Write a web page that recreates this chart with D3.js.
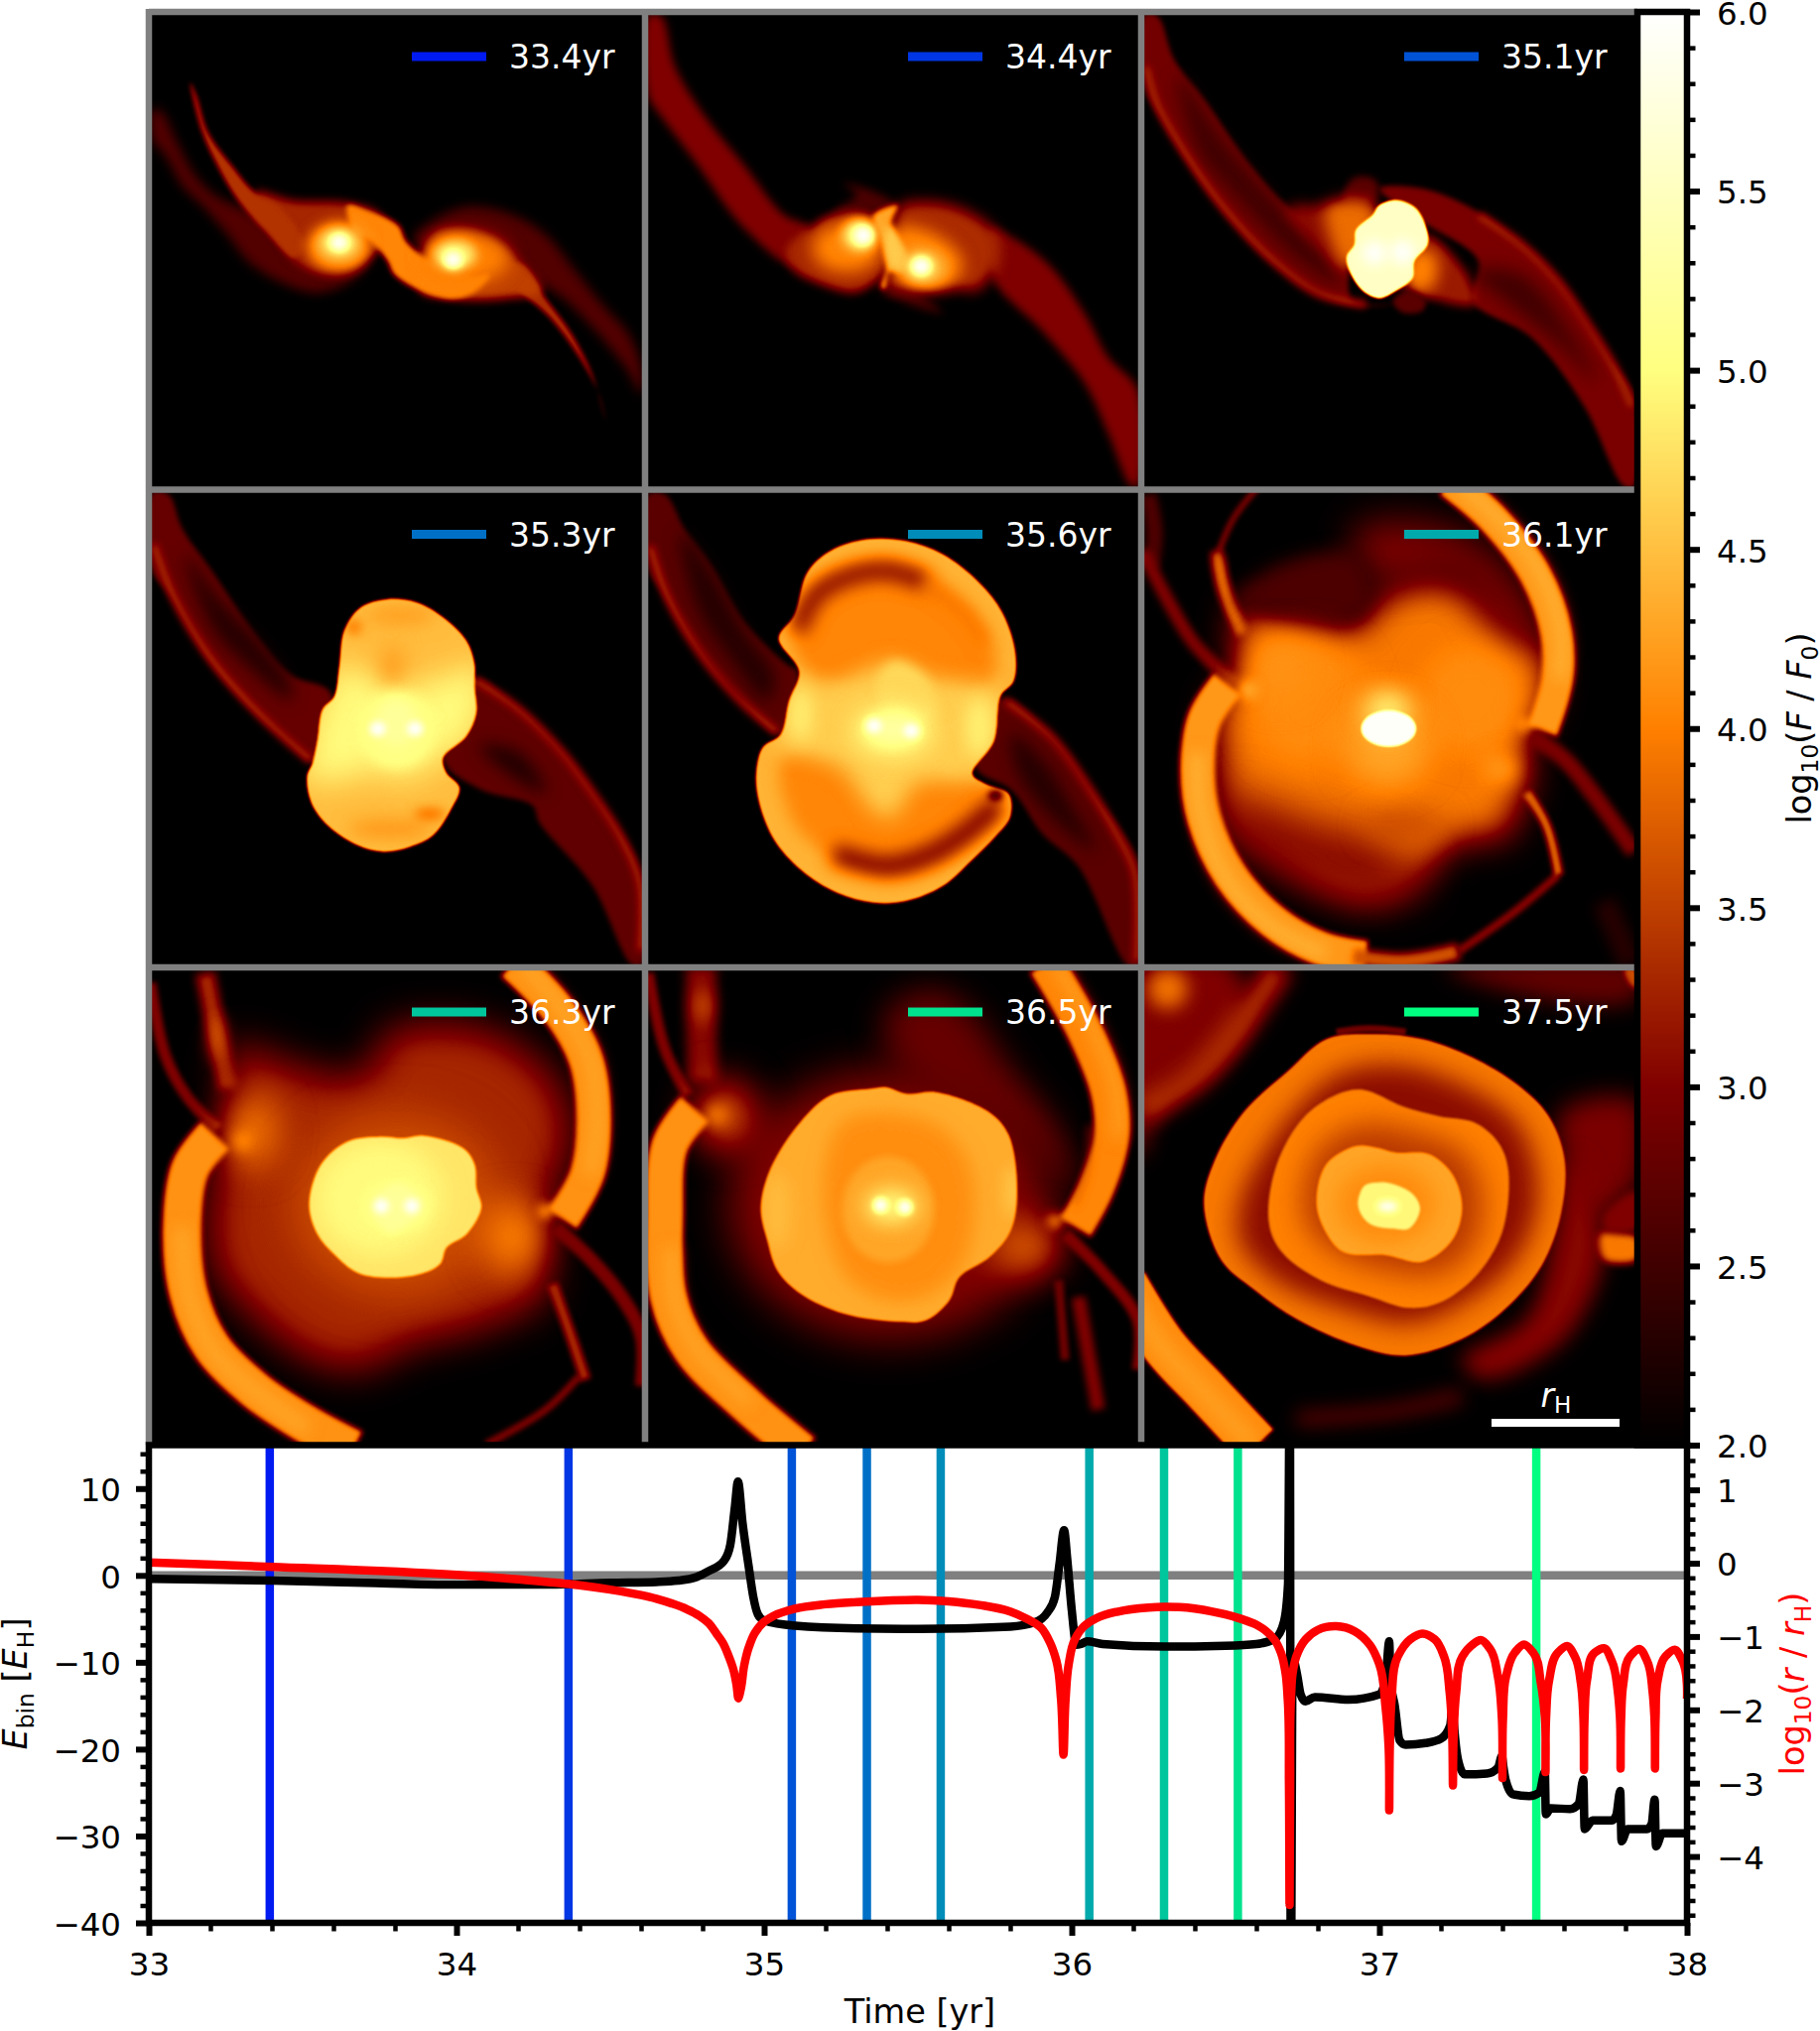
<!DOCTYPE html>
<html><head><meta charset="utf-8">
<script src="https://cdn.jsdelivr.net/npm/d3@7"></script>
<style>html,body{margin:0;padding:0;background:#fff}svg{display:block}text{font-family:"DejaVu Sans";}</style>
</head><body><svg id="fig" width="1834" height="2047"></svg>
<script>
// ---------- values ----------
const snapshotLabels=['33.4yr','34.4yr','35.1yr','35.3yr','35.6yr','36.1yr','36.3yr','36.5yr','37.5yr'];
const snapshotTimes=[33.393,34.364,35.09,35.334,35.574,36.057,36.30,36.54,37.51];
const xTicks=[33,34,35,36,37,38];
const eTicks=[10,0,-10,-20,-30,-40];
const rTicks=[1,0,-1,-2,-3,-4];
const cTicks=[2,2.5,3,3.5,4,4.5,5,5.5,6];

const binT=[33,33.4,33.7,34,34.3,34.5,34.65,34.72,34.78,34.82,34.87,34.89,34.905,34.915,34.93,34.95,34.965,34.98,35,35.1,35.3,35.5,35.8,35.88,35.92,35.945,35.96,35.975,35.985,36,36.015,36.03,36.05,36.1,36.3,36.5,36.6,36.66,36.69,36.703,36.709,36.712,36.718,36.733,36.744,36.76,36.79,36.9,37,37.02,37.032,37.036,37.05,37.066,37.085,37.15,37.2,37.23,37.238,37.242,37.256,37.277,37.35,37.386,37.398,37.403,37.41,37.434,37.487,37.52,37.538,37.541,37.557,37.62,37.648,37.663,37.667,37.693,37.756,37.77,37.783,37.787,37.807,37.87,37.885,37.895,37.899,37.92,38];
const binE=[-0.4,-0.6,-0.85,-1.05,-1.05,-0.85,-0.75,-0.6,-0.2,0.5,1.7,3.5,7.9,10.8,6,1,-2.5,-4.5,-5.2,-5.8,-6.1,-6.15,-5.9,-5.4,-4.3,-2.5,1.3,5.2,2,-4,-8,-7.9,-7.6,-7.9,-8.2,-8.1,-7.9,-7.3,-5.3,-1,25,-50,-9.5,-11.5,-13.7,-14.5,-14,-14.3,-13.7,-12,-7.6,-12,-15,-19,-19.5,-19.3,-18.8,-17.3,-15,-17,-21.3,-22.9,-22.8,-22.1,-20.8,-22,-23.5,-25.2,-25.4,-25,-22.6,-27.5,-26.8,-26.9,-26.3,-23.5,-29.2,-28.2,-28.2,-27.6,-24.8,-30.6,-29.2,-29.2,-28.6,-25.8,-31.2,-29.7,-29.7];

const sepT=[33,33.4,34,34.2,34.4,34.5,34.6,34.65,34.7,34.75,34.79,34.82,34.845,34.865,34.885,34.9,34.91,34.917,34.925,34.935,34.95,34.97,35,35.03,35.1,35.2,35.3,35.4,35.5,35.6,35.7,35.8,35.85,35.9,35.93,35.95,35.965,35.973,35.98,35.99,36.01,36.04,36.08,36.15,36.25,36.3,36.35,36.4,36.45,36.5,36.55,36.6,36.63,36.66,36.68,36.695,36.702,36.706,36.708,36.71,36.713,36.718,36.73,36.76,36.8,36.86,36.92,36.97,37,37.02,37.03,37.032,37.034,37.04,37.06,37.1,37.14,37.18,37.21,37.228,37.237,37.239,37.241,37.25,37.27,37.3,37.33,37.36,37.385,37.398,37.4,37.402,37.412,37.44,37.47,37.5,37.525,37.538,37.54,37.542,37.552,37.58,37.61,37.635,37.655,37.663,37.665,37.667,37.675,37.7,37.73,37.755,37.775,37.782,37.784,37.786,37.793,37.815,37.845,37.87,37.888,37.894,37.896,37.898,37.905,37.93,37.96,37.985,38];
const sepR=[0.01,-0.05,-0.16,-0.22,-0.3,-0.36,-0.435,-0.485,-0.55,-0.63,-0.72,-0.82,-0.96,-1.08,-1.27,-1.45,-1.65,-1.84,-1.7,-1.4,-1.15,-0.95,-0.8,-0.72,-0.62,-0.56,-0.53,-0.51,-0.5,-0.52,-0.57,-0.66,-0.75,-0.88,-1.09,-1.33,-1.85,-2.61,-1.85,-1.38,-1.04,-0.86,-0.75,-0.66,-0.605,-0.595,-0.6,-0.62,-0.655,-0.7,-0.76,-0.84,-0.92,-1.05,-1.22,-1.5,-1.85,-3.0,-4.66,-3.0,-1.8,-1.5,-1.27,-1.04,-0.91,-0.86,-0.93,-1.12,-1.38,-1.96,-2.5,-3.37,-2.5,-1.85,-1.27,-1.04,-0.96,-1.04,-1.27,-1.75,-2.4,-3.03,-2.4,-1.75,-1.27,-1.12,-1.05,-1.17,-1.54,-2.1,-2.93,-2.1,-1.54,-1.22,-1.11,-1.22,-1.64,-2.1,-2.85,-2.1,-1.59,-1.22,-1.13,-1.27,-1.64,-2.1,-2.82,-2.1,-1.59,-1.22,-1.16,-1.33,-1.75,-2.1,-2.8,-2.1,-1.64,-1.27,-1.17,-1.33,-1.75,-2.1,-2.8,-2.1,-1.59,-1.27,-1.18,-1.33,-1.85];

// flux maps: regions of log10(F/F0), outlines read in 3x zoom pixels of each panel
const map1=[
 {v:2.65,b:6,p:[[40,330],[70,340],[110,420],[170,530],[230,590],[330,640],[440,720],[520,790],[640,815],[700,790],[640,850],[540,885],[420,850],[330,790],[260,700],[190,620],[130,560],[80,470],[40,420]]},
 {v:2.65,b:6,p:[[830,720],[900,660],[1000,625],[1130,650],[1230,710],[1320,820],[1400,920],[1480,1010],[1520,1120],[1520,1190],[1470,1110],[1380,1000],[1280,900],[1170,830],[1060,760],[950,730],[880,760]]},
 {v:3.3,b:5,p:[[350,580],[470,605],[630,612],[720,640],[760,700],[700,780],[640,820],[540,825],[470,790],[410,700]]},
 {v:3.4,b:2.5,p:[[175,290],[210,400],[290,510],[350,580],[430,630],[500,740],[470,780],[380,700],[300,610],[240,510],[190,400],[155,250]]},
 {v:3.35,b:2.5,p:[[1100,810],[1160,800],[1230,900],[1310,1010],[1370,1130],[1410,1270],[1390,1190],[1330,1080],[1240,960],[1150,880]]},
 {v:3.5,b:5,p:[[860,760],[900,700],[980,690],[1080,730],[1160,800],[1220,880],[1100,905],[950,905],[850,880]]},
 {v:4.05,b:3,p:[[630,620],[700,640],[785,680],[810,730],[870,780],[1000,830],[1060,830],[1020,880],[950,905],[850,880],[770,830],[750,790],[700,730],[650,700]]},
 {v:4.0,b:10,e:[990,780,130,75]},
 {v:4.25,b:7,e:[605,745,95,75]},
 {v:4.85,b:6,e:[605,735,56,42]},
 {v:5.4,b:5,e:[605,733,30,26]},
 {v:6,b:4,e:[605,733,20,18]},
 {v:4.85,b:6,e:[955,770,65,45]},
 {v:5.4,b:5,e:[950,783,30,28]},
 {v:6,b:4,e:[950,785,20,18]}
];
const map2=[
 {v:3.0,b:5,p:[[10,15],[50,20],[90,170],[180,320],[300,470],[420,620],[500,660],[450,770],[300,660],[160,470],[100,390],[40,310],[10,260]]},
 {v:3.0,b:5,p:[[1040,660],[1130,700],[1230,780],[1330,920],[1400,1050],[1490,1150],[1490,1440],[1470,1440],[1400,1280],[1330,1130],[1200,970],[1050,810]]},
 {v:2.6,b:5,p:[[600,525],[680,545],[760,590],[660,620],[570,610],[640,560]]},
 {v:2.6,b:5,p:[[720,850],[800,850],[900,915],[800,890]]},
 {v:3.3,b:5,p:[[440,780],[540,835],[640,855],[725,790],[720,640],[640,610],[560,620],[490,665],[430,720]]},
 {v:4.05,b:10,e:[610,720,105,75]},
 {v:3.35,b:7,p:[[750,640],[770,590],[860,578],[960,600],[1060,670],[1070,760],[1040,815],[1000,850],[920,840],[720,840],[740,780]]},
 {v:4.05,b:9,p:[[760,660],[880,680],[960,760],[930,830],[850,845],[760,800]]},
 {v:4.3,b:3,p:[[750,590],[765,590],[745,650],[790,740],[780,790],[740,790],[725,845],[712,840],[730,780],[710,680],[690,620]]},
 {v:4.6,b:4,p:[[740,650],[780,720],[800,780],[745,780],[725,700]]},
 {v:4.5,b:7,e:[840,780,70,55]},
 {v:5.1,b:5,e:[835,775,38,34]},
 {v:6,b:4,e:[835,775,24,22]},
 {v:4.8,b:6,e:[650,680,55,50]},
 {v:5.4,b:5,e:[655,682,32,30]},
 {v:6,b:4,e:[660,682,22,22]}
];
const map3=[
 {v:2.9,b:3,p:[[10,15],[50,20],[100,150],[190,270],[330,470],[450,600],[570,670],[620,760],[640,880],[760,890],[650,895],[560,870],[430,790],[310,680],[180,520],[60,330],[10,230]]},
 {v:2.5,b:9,p:[[110,200],[250,400],[420,600],[550,740],[600,830],[480,760],[300,580],[170,420]]},
 {v:3.3,b:4,w:24,l:[[15,170],[50,290],[130,430],[250,600],[400,760],[540,860],[680,890]]},
 {v:2.95,b:3,p:[[720,540],[850,540],[1000,600],[1140,700],[1250,810],[1340,940],[1420,1060],[1490,1170],[1490,1440],[1460,1440],[1340,1200],[1180,990],[1000,880],[1020,760],[850,640]]},
 {v:2.5,b:10,p:[[1000,790],[1150,800],[1300,980],[1380,1130],[1250,1000],[1100,880]]},
 {v:3.3,b:4,w:24,l:[[1020,620],[1150,710],[1260,820],[1350,950],[1430,1080],[1485,1200]]},
 {v:2.7,b:4,p:[[640,510],[700,510],[720,545],[690,590],[610,580]]},
 {v:3.1,b:7,p:[[440,600],[560,590],[700,590],[700,700],[620,780],[540,720]]},
 {v:3.85,b:9,p:[[560,590],[700,590],[700,700],[620,780],[570,690]]},
 {v:3.2,b:5,p:[[860,680],[980,790],[1010,890],[900,880],[820,840]]},
 {v:4.0,b:8,p:[[820,730],[890,740],[880,840],[800,840]]},
 {v:2.7,b:3,p:[[760,880],[810,850],[860,880],[850,910],[790,915]]},
 {v:5.55,b:1,p:[[720,590],[770,575],[830,600],[865,670],[865,710],[825,760],[820,810],[770,850],[720,872],[670,850],[630,790],[622,745],[645,710],[650,665],[700,620]],c:[
  {v:6,b:7,e:[705,735,36,34]},{v:6,b:7,e:[790,733,36,34]}]}
];
const map4=[
 {v:2.8,b:3,p:[[10,15],[60,20],[100,120],[190,250],[320,440],[430,565],[550,620],[510,830],[400,750],[280,640],[180,520],[60,320],[10,250]]},
 {v:2.3,b:9,p:[[110,200],[200,320],[320,450],[420,580],[430,640],[300,540],[190,420]]},
 {v:3.35,b:4,w:24,l:[[15,170],[80,340],[190,520],[340,690],[490,825]]},
 {v:2.75,b:3,p:[[980,575],[1100,650],[1240,790],[1340,920],[1490,1170],[1490,1440],[1460,1440],[1340,1200],[1180,1010],[1160,960],[1000,910],[890,820]]},
 {v:2.25,b:9,p:[[1000,780],[1120,800],[1200,920],[1130,890]]},
 {v:3.3,b:4,w:24,l:[[985,580],[1120,670],[1250,800],[1340,920],[1430,1060],[1485,1200],[1485,1400]]},
 {v:4.5,b:1,p:[[575,540],[590,430],[640,360],[720,335],[810,345],[890,390],[960,460],[985,530],[985,600],[990,680],[960,750],[890,815],[900,860],[940,905],[915,970],[860,1050],[790,1085],[710,1100],[630,1080],[540,1020],[490,950],[478,870],[495,830],[510,760],[525,670],[560,630]],c:[
  {v:4.98,b:18,p:[[555,540],[680,570],[800,600],[1005,540],[1005,680],[970,760],[890,815],[760,880],[680,850],[600,880],[470,880],[490,760],[505,670],[540,630]]},
  {v:4.15,b:12,e:[735,540,30,60]},
  {v:4.15,b:10,e:[730,1030,130,26]},
  {v:3.7,b:6,e:[850,985,46,13]},
  {v:3.9,b:6,e:[620,420,24,20]},
  {v:4.2,b:10,e:[760,385,110,24]}]},
 {v:5.05,b:7,e:[750,730,110,115]},
 {v:5.2,b:6,e:[748,710,60,70]},
 {v:6,b:4,e:[692,728,24,22]},
 {v:6,b:4,e:[805,728,24,22]}
];
const map5=[
 {v:2.7,b:3,p:[[40,55],[90,55],[150,160],[230,270],[330,440],[460,570],[490,590],[440,780],[300,650],[180,510],[80,350],[40,280]]},
 {v:2.3,b:9,p:[[140,170],[230,290],[330,470],[420,600],[400,680],[280,540],[190,400]]},
 {v:3.35,b:4,w:24,l:[[45,210],[100,370],[200,540],[320,680],[430,775]]},
 {v:2.7,b:3,p:[[1110,670],[1250,780],[1360,930],[1520,1170],[1520,1480],[1490,1480],[1340,1180],[1230,1080],[1140,950],[1030,880]]},
 {v:2.3,b:9,p:[[1140,780],[1240,870],[1320,1000],[1390,1130],[1270,1040],[1160,900]]},
 {v:3.3,b:4,w:24,l:[[1120,680],[1260,790],[1370,940],[1460,1090],[1510,1200],[1515,1470]]},
 {v:4.42,b:1,p:[[433,490],[480,420],[520,290],[590,225],[700,190],[820,195],[930,235],[1040,320],[1110,410],[1150,530],[1145,620],[1105,665],[1085,800],[1020,900],[1060,930],[1130,960],[1135,1030],[1090,1090],[1020,1160],[930,1240],[820,1285],[720,1290],[610,1260],[500,1190],[420,1100],[375,990],[365,900],[385,820],[440,780],[465,680],[495,590]],c:[
  {v:4.05,b:9,p:[[480,510],[530,340],[640,270],[790,255],[930,320],[1040,430],[1090,560],[1060,640],[780,640],[530,600]]},
  {v:2.95,b:10,w:52,l:[[490,470],[545,360],[640,305],[760,285],[880,320]]},
  {v:3.9,b:8,w:34,l:[[880,330],[1000,420],[1060,510]]},
  {v:4.05,b:9,p:[[450,850],[800,850],[1100,970],[1090,1040],[980,1140],[850,1200],[700,1190],[560,1130],[470,1030]]},
  {v:2.9,b:10,w:58,l:[[600,1140],[760,1180],[900,1140],[1010,1070],[1100,990]]},
  {v:2.2,b:4,e:[1090,965,22,15]},
  {v:4.62,b:12,p:[[470,590],[560,640],[780,560],[900,610],[1120,660],[1100,810],[1020,910],[850,930],[780,1030],[720,1010],[620,880],[420,800],[450,680]]},
  {v:4.9,b:10,e:[500,720,32,80]},
  {v:4.9,b:10,e:[1040,760,40,90]},
  {v:4.7,b:6,p:[[780,560],[880,610],[910,730],[790,740],[730,640]]}]},
 {v:5.1,b:14,e:[780,770,115,70]},
 {v:5.3,b:10,e:[780,762,70,35]},
 {v:6,b:4,e:[722,755,24,22]},
 {v:6,b:4,e:[835,770,24,22]}
];
const map6=[
 {v:2.6,b:4,w:50,l:[[20,20],[40,130],[30,240]]},
 {v:3.0,b:4,w:40,l:[[5,190],[70,320],[160,470],[280,590]]},
 {v:3.0,b:3,w:18,l:[[350,0],[280,90],[235,190]]},
 {v:3.7,b:4,w:36,l:[[228,190],[250,300],[305,440]]},
 {v:4.15,b:6,w:16,l:[[232,210],[250,310],[290,400]]},
 {v:3.95,b:20,p:[[300,360],[460,410],[640,420],[720,340],[800,285],[950,290],[1100,400],[1230,520],[1220,650],[1170,740],[1165,900],[1140,960],[1100,1050],[950,1070],[850,1170],[700,1240],[550,1200],[400,1100],[270,1000],[230,800],[240,640],[300,590],[290,500]]},
 {v:2.95,b:20,p:[[650,120],[900,110],[1100,230],[1200,440],[1120,480],[950,270],[720,290],[640,200]]},
 {v:2.6,b:10,p:[[290,340],[400,240],[650,200],[700,340],[640,410],[460,400]]},
 {v:3.0,b:24,p:[[250,920],[300,1080],[480,1180],[700,1250],[850,1190],[750,1080],[500,1000]]},
 {v:3.55,b:16,e:[800,1020,120,45]},
 {v:4.1,b:16,e:[1000,640,160,170]},
 {v:4.1,b:18,e:[500,640,180,200]},
 {v:4.15,b:18,e:[420,540,90,100]},
 {v:4.3,b:18,e:[745,780,130,120]},
 {v:4.95,b:14,e:[745,670,70,60]},
 {v:4.5,b:7,e:[322,610,26,26]},
 {v:4.4,b:6,e:[1160,715,18,18]},
 {v:4.25,b:12,e:[1090,850,55,45]},
 {v:4.2,b:3,w:98,l:[[930,-20],[1060,90],[1190,260],[1255,440],[1258,580],[1212,735]]},
 {v:4.4,b:8,w:40,l:[[960,-10],[1080,90],[1210,260],[1270,440],[1265,580]]},
 {v:4.2,b:3,w:106,l:[[260,592],[190,700],[170,850],[190,1000],[270,1170],[400,1310],[540,1390],[680,1420]]},
 {v:4.4,b:8,w:46,l:[[170,800],[175,950],[250,1170],[400,1330],[560,1410]]},
 {v:3.65,b:4,w:50,l:[[640,1415],[800,1430],[960,1400]]},
 {v:3.1,b:3,w:24,l:[[960,1400],[1130,1280],[1260,1170]]},
 {v:3.8,b:3,w:28,l:[[1165,920],[1225,1020],[1262,1170]]},
 {v:2.95,b:4,w:50,l:[[1180,750],[1280,820],[1370,930],[1490,1100]]},
 {v:2.3,b:7,w:70,l:[[1400,1250],[1480,1440]]},
 {v:5.95,b:1,e:[748,727,82,54]}
];
const map7=[
 {v:3.0,b:3,w:34,l:[[5,50],[50,270],[120,400],[210,490]]},
 {v:3.3,b:5,w:58,l:[[170,20],[205,200],[240,370]]},
 {v:3.9,b:10,e:[205,215,18,70]},
 {v:3.3,b:22,p:[[250,240],[400,280],[520,320],[650,320],[720,200],[850,170],[1050,200],[1230,340],[1280,520],[1220,700],[1210,880],[1200,1000],[1000,1100],[800,1150],[650,1220],[500,1200],[300,1050],[190,900],[190,650],[240,500]]},
 {v:3.6,b:24,e:[750,720,320,280]},
 {v:3.95,b:20,e:[310,500,80,110]},
 {v:4.4,b:8,e:[280,530,24,22]},
 {v:4.0,b:20,e:[1100,820,90,110]},
 {v:4.4,b:6,e:[1200,740,22,20]},
 {v:4.15,b:3,w:108,l:[[1100,-10],[1235,130],[1320,280],[1345,460],[1325,630],[1250,765]]},
 {v:4.3,b:8,w:44,l:[[1130,-10],[1250,130],[1335,280],[1355,460],[1335,630]]},
 {v:4.15,b:3,w:120,l:[[200,510],[125,610],[100,790],[120,990],[190,1150],[320,1280],[470,1380],[620,1460]]},
 {v:4.3,b:8,w:50,l:[[100,790],[120,990],[200,1170],[340,1300],[480,1400]]},
 {v:3.0,b:3,w:22,l:[[1020,1445],[1200,1340],[1300,1240]]},
 {v:3.3,b:3,w:34,l:[[1220,960],[1270,1100],[1320,1250]]},
 {v:2.95,b:3,w:42,l:[[1230,790],[1330,880],[1430,1000],[1490,1120],[1490,1270]]},
 {v:4.8,b:1,p:[[485,720],[520,600],[600,530],[700,515],[770,520],[830,512],[950,550],[985,600],[990,670],[1005,730],[960,810],[900,850],[880,900],[800,935],[640,930],[560,870],[510,810]],c:[
  {v:4.98,b:14,e:[700,700,190,170]},
  {v:5.15,b:4,p:[[750,655],[820,720],[730,810],[680,730]]}]},
 {v:5.2,b:10,e:[750,725,85,55]},
 {v:6,b:4,e:[703,725,22,22]},
 {v:6,b:4,e:[795,725,22,22]}
];
const map8=[
 {v:3.0,b:3,w:34,l:[[10,20],[60,250],[130,390]]},
 {v:3.05,b:6,w:90,l:[[170,0],[170,150],[175,350]]},
 {v:3.7,b:10,e:[175,120,25,50]},
 {v:3.0,b:24,e:[740,720,490,410]},
 {v:2.8,b:18,p:[[720,160],[850,70],[970,120],[1100,300],[1250,500],[1300,680],[1100,500],[800,350]]},
 {v:3.7,b:20,e:[240,450,100,110]},
 {v:4.2,b:8,e:[215,450,28,24]},
 {v:3.7,b:20,e:[1150,850,110,90]},
 {v:4.15,b:6,e:[1240,770,24,22]},
 {v:4.05,b:3,w:112,l:[[1210,-10],[1330,200],[1400,380],[1410,520],[1365,670],[1300,790]]},
 {v:4.25,b:8,w:36,l:[[1240,-10],[1360,200],[1425,380],[1430,520]]},
 {v:3.6,b:5,w:10,l:[[1345,480],[1340,600],[1300,720]]},
 {v:4.15,b:3,w:116,l:[[150,430],[75,540],[60,750],[70,1000],[140,1160],[300,1320],[480,1470]]},
 {v:4.3,b:8,w:40,l:[[80,850],[90,1010],[160,1160],[320,1320]]},
 {v:3.0,b:3,w:36,l:[[1270,810],[1380,920],[1490,1070],[1490,1220]]},
 {v:2.9,b:3,w:26,l:[[1250,950],[1270,1190]]},
 {v:3.0,b:4,w:42,l:[[1310,1000],[1370,1340]]},
 {v:4.35,b:1,p:[[350,730],[380,610],[470,470],[560,390],[680,370],[730,365],[790,385],[880,380],[1040,440],[1100,510],[1125,680],[1105,800],[1040,880],[950,940],[920,1010],[850,1070],[770,1075],[600,1050],[470,990],[400,920],[370,830]],c:[
  {v:4.12,b:10,p:[[600,470],[860,470],[980,600],[960,900],[800,1010],[620,950],[540,700]]},
  {v:4.6,b:8,e:[1110,680,20,80]},
  {v:4.5,b:10,e:[400,740,35,120]},
  {v:4.3,b:4,e:[735,735,140,160]}]},
 {v:5.0,b:12,e:[745,725,80,50]},
 {v:6,b:3.5,e:[712,722,20,20]},
 {v:6,b:3.5,e:[786,728,20,20]}
];
const map9=[
 {v:3.0,b:12,p:[[20,40],[310,40],[350,200],[250,340],[100,450],[20,620]]},
 {v:3.9,b:10,e:[110,110,60,60]},
 {v:3.35,b:10,w:90,l:[[450,40],[300,260],[200,370],[30,480]]},
 {v:2.75,b:12,p:[[950,50],[1530,40],[1530,140],[1300,150]]},
 {v:3.6,b:3,p:[[1490,50],[1530,50],[1530,110],[1510,100]]},
 {v:2.95,b:14,p:[[1300,480],[1530,450],[1530,700],[1400,800],[1320,680]]},
 {v:3.05,b:12,p:[[1340,620],[1420,800],[1420,960],[1300,1180],[1060,1290],[1000,1230],[1200,1100]]},
 {v:2.6,b:10,w:50,l:[[500,1410],[800,1385],[1000,1340]]},
 {v:3.95,b:4,p:[[1420,850],[1530,860],[1530,930],[1430,930]]},
 {v:3.0,b:4,p:[[1430,790],[1530,720],[1530,840],[1430,840]]},
 {v:4.1,b:2,w:140,l:[[-20,1000],[100,1190],[230,1330],[380,1490]]},
 {v:4.25,b:8,w:60,l:[[-20,1010],[90,1190],[220,1330],[370,1490]]},
 {v:2.9,b:2,w:20,l:[[620,240],[720,230],[830,240]]},
 {v:3.95,b:1,p:[[218,760],[250,630],[340,480],[470,360],[590,260],[730,245],[880,260],[1030,315],[1170,400],[1260,490],[1310,620],[1300,790],[1240,950],[1130,1080],[1000,1170],[830,1220],[680,1190],[500,1110],[370,1020],[270,930]],c:[
  {v:3.1,b:14,p:[[330,750],[430,560],[620,370],[800,340],[1000,400],[1170,520],[1230,720],[1180,900],[1050,1030],[850,1120],[650,1080],[450,1000],[330,880]]}]},
 {v:4.0,b:1,p:[[415,810],[440,640],[520,500],[620,430],[700,415],[820,465],[930,495],[1040,515],[1110,575],[1140,660],[1120,850],[1040,980],[930,1060],[840,1075],[720,1040],[570,990],[450,900]],c:[
  {v:3.45,b:16,p:[[520,800],[560,600],[700,520],[850,540],[1000,600],[1060,720],[1040,880],[940,970],[800,970],[600,900]]}]},
 {v:4.3,b:1,p:[[560,750],[590,640],[680,585],[740,590],[800,605],[900,610],[970,670],[1000,770],[970,870],[880,935],[770,915],[640,905],[580,830]],c:[
  {v:4.1,b:12,e:[770,760,150,120]}]},
 {v:4.95,b:1,p:[[685,760],[705,705],[750,695],[790,700],[850,730],[873,775],[840,835],[790,835],[730,825],[700,800]]},
 {v:6,b:4,e:[775,768,30,15]}
];
const panelMaps=[map1,map2,map3,map4,map5,map6,map7,map8,map9];
const zoomOffsets=[[30,30],[0,0],[0,0],[0,0],[30,36],[0,0],[0,0],[0,0],[30,42]];

// ---------- figure ----------
const svg=d3.select('#fig');
const defs=svg.append('defs');
const fs=32.5, fsLegend=33, fsTitle=33.5, spineW=6.5, lineW=8.5, majW=6, minW=4.5, majL=13, minL=8.5;
const colX=[150,650,1150,1650], rowY=[12,493.5,975,1456.5], bottomY=1938, cbRight=1700;
const imgY=[10,492,974];

const afmhot=d3.scaleLinear().domain([2,3,4,5,6]).range(['#000000','#800000','#ff8000','#ffff80','#ffffff']);
const grayOf=d3.scaleLinear().domain([2,6]).range([0,255]).clamp(true);
const gray=v=>{const g=Math.round(grayOf(v));return `rgb(${g},${g},${g})`;};
const winterPos=d3.scaleLinear().domain([0,8]).range([0.1,1]);
const winter=d3.scaleLinear().domain([0,1]).range(['#0000ff','#00ff80']);

let uid=0;
function addBlur(std,rect){
  const id='b'+(uid++);
  const f=defs.append('filter').attr('id',id).attr('filterUnits','userSpaceOnUse')
    .attr('x',rect[0]).attr('y',rect[1]).attr('width',rect[2]).attr('height',rect[3])
    .attr('color-interpolation-filters','sRGB');
  f.append('feGaussianBlur').attr('stdDeviation',std);
  return id;
}
function drawRegions(parent,list,xs,ys,rect){
  const k=(xs.range()[1]-xs.range()[0])/(xs.domain()[1]-xs.domain()[0]);
  const closed=d3.line().x(d=>xs(d[0])).y(d=>ys(d[1])).curve(d3.curveCatmullRomClosed.alpha(0.5));
  const open=d3.line().x(d=>xs(d[0])).y(d=>ys(d[1])).curve(d3.curveCatmullRom.alpha(0.5));
  list.forEach(s=>{
    const g=parent.append('g').attr('filter',`url(#${addBlur(s.b*0.9,rect)})`);
    if(s.e){
      g.append('ellipse').attr('cx',xs(s.e[0])).attr('cy',ys(s.e[1])).attr('rx',s.e[2]*k).attr('ry',s.e[3]*k).attr('fill',gray(s.v));
    } else if(s.l){
      g.append('path').attr('d',open(s.l)).attr('fill','none').attr('stroke',gray(s.v)).attr('stroke-width',s.w*k);
    } else {
      const d=closed(s.p);
      g.append('path').attr('d',d).attr('fill',gray(s.v));
      if(s.c){
        const cid='c'+(uid++);
        defs.append('clipPath').attr('id',cid).append('path').attr('d',d);
        const cg=g.append('g').attr('clip-path',`url(#${cid})`);
        drawRegions(cg,s.c,xs,ys,rect);
      }
    }
  });
}

// panels
panelMaps.forEach((m,i)=>{
  const c=i%3,r=Math.floor(i/3);
  const x0=colX[c],y0=imgY[r],[ox,oy]=zoomOffsets[i];
  const xs=d3.scaleLinear().domain([ox,ox+1500]).range([x0,x0+500]);
  const ys=d3.scaleLinear().domain([oy,oy+1452]).range([y0,y0+484]);
  const rect=[x0,rowY[r],500,rowY[r+1]-rowY[r]];
  const cid='panel'+i;
  defs.append('clipPath').attr('id',cid).append('rect').attr('x',rect[0]).attr('y',rect[1]).attr('width',rect[2]).attr('height',rect[3]);
  const f=defs.append('filter').attr('id','hot'+i).attr('filterUnits','userSpaceOnUse')
    .attr('x',rect[0]).attr('y',rect[1]).attr('width',rect[2]).attr('height',rect[3])
    .attr('color-interpolation-filters','sRGB');
  const ct=f.append('feComponentTransfer');
  ct.append('feFuncR').attr('type','table').attr('tableValues','0 0.502 1 1 1');
  ct.append('feFuncG').attr('type','table').attr('tableValues','0 0 0.502 1 1');
  ct.append('feFuncB').attr('type','table').attr('tableValues','0 0 0 0.502 1');
  const outer=svg.append('g').attr('clip-path',`url(#${cid})`);
  const g=outer.append('g').attr('filter',`url(#hot${i})`);
  g.append('rect').attr('x',rect[0]).attr('y',rect[1]).attr('width',rect[2]).attr('height',rect[3]).attr('fill','#000');
  drawRegions(g,m,xs,ys,rect);
});

// grey frames
const frame=svg.append('g').attr('stroke','#808080').attr('stroke-width',spineW);
colX.slice(0,3).forEach(x=>frame.append('line').attr('x1',x).attr('x2',x).attr('y1',rowY[0]-3).attr('y2',rowY[3]));
rowY.slice(0,3).forEach(y=>frame.append('line').attr('x1',colX[0]).attr('x2',colX[3]).attr('y1',y).attr('y2',y));

// legends
snapshotLabels.forEach((t,i)=>{
  const x0=colX[i%3],y0=rowY[Math.floor(i/3)];
  svg.append('line').attr('x1',x0+265).attr('x2',x0+340).attr('y1',y0+45).attr('y2',y0+45)
    .attr('stroke',winter(winterPos(i))).attr('stroke-width',9);
  svg.append('text').attr('x',x0+363).attr('y',y0+57).attr('fill','#fff').attr('font-size',fsLegend).text(t);
});

// scale bar
svg.append('rect').attr('x',1503).attr('y',1430).attr('width',129).attr('height',8).attr('fill','#fff');
const rh=svg.append('text').attr('x',1568).attr('y',1418).attr('text-anchor','middle').attr('fill','#fff').attr('font-size',fsLegend);
rh.append('tspan').attr('font-style','italic').text('r');
rh.append('tspan').attr('font-size',fsLegend*0.7).attr('dy',6).text('H');

// colour bar
const cy=d3.scaleLinear().domain([2,6]).range([rowY[3],rowY[0]]);
const grad=defs.append('linearGradient').attr('id','cbar').attr('x1',0).attr('x2',0).attr('y1',1).attr('y2',0);
[2,3,4,5,6].forEach(v=>grad.append('stop').attr('offset',(v-2)/4).attr('stop-color',afmhot(v)));
svg.append('rect').attr('x',colX[3]).attr('y',rowY[0]).attr('width',cbRight-colX[3]).attr('height',rowY[3]-rowY[0]).attr('fill','url(#cbar)');
const cAxisMinor=d3.axisRight(cy).tickValues(d3.range(2,6.01,0.1).filter(v=>Math.abs((v*2)%1)>1e-6&&Math.abs((v*2)%1-1)>1e-6)).tickSize(minL).tickFormat('');
const cAxis=d3.axisRight(cy).tickValues(cTicks).tickSize(majL).tickPadding(17).tickFormat(d3.format('.1f'));
function styleAxis(g,w){g.select('.domain').remove();g.selectAll('line').attr('stroke-width',w).attr('stroke','#000');g.selectAll('text').attr('font-size',fs).attr('font-family','DejaVu Sans').attr('fill','#000');}
const lowerLabels=g=>g.selectAll('text').attr('dy','0.38em');
svg.append('g').attr('transform',`translate(${cbRight},0)`).call(cAxisMinor).call(styleAxis,minW);
svg.append('g').attr('transform',`translate(${cbRight},0)`).call(cAxis).call(styleAxis,majW).call(lowerLabels);

// time series axes
const x=d3.scaleLinear().domain([33,38]).range([colX[0],cbRight]);
const yE=d3.scaleLinear().domain([-40,15]).range([bottomY,rowY[3]]);
const yR=d3.scaleLinear().domain([-4.905,1.61]).range([bottomY,rowY[3]]);
defs.append('clipPath').attr('id','axclip').append('rect').attr('x',colX[0]).attr('y',rowY[3]).attr('width',cbRight-colX[0]).attr('height',bottomY-rowY[3]);
svg.append('rect').attr('x',colX[0]).attr('y',rowY[3]).attr('width',cbRight-colX[0]).attr('height',bottomY-rowY[3]).attr('fill','#fff');
const plot=svg.append('g').attr('clip-path','url(#axclip)');
plot.append('line').attr('x1',colX[0]).attr('x2',cbRight).attr('y1',yE(0)).attr('y2',yE(0)).attr('stroke','#808080').attr('stroke-width',lineW);
plot.selectAll('.vl').data(snapshotTimes).enter().append('line').attr('x1',d=>x(d)).attr('x2',d=>x(d)).attr('y1',rowY[3]).attr('y2',bottomY)
  .attr('stroke',(d,i)=>winter(winterPos(i))).attr('stroke-width',lineW);
const lineOf=(ts,vs,sc,cv)=>d3.line().x(i=>x(ts[i])).y(i=>sc(vs[i])).curve(cv)(d3.range(ts.length));
plot.append('path').attr('d',lineOf(binT,binE,yE,d3.curveMonotoneX)).attr('fill','none').attr('stroke','#000').attr('stroke-width',lineW).attr('stroke-linejoin','round');
plot.append('path').attr('d',lineOf(sepT,sepR,yR,d3.curveCatmullRom.alpha(1))).attr('fill','none').attr('stroke','#ff0000').attr('stroke-width',lineW).attr('stroke-linejoin','round');

// ticks
const minorOf=(a,b,s,skip)=>d3.range(a,b+s/2,s).filter(v=>!skip.some(t=>Math.abs(t-v)<1e-6));
svg.append('g').attr('transform',`translate(0,${bottomY})`).call(d3.axisBottom(x).tickValues(minorOf(33,38,0.2,xTicks)).tickSize(minL).tickFormat('')).call(styleAxis,minW);
svg.append('g').attr('transform',`translate(0,${bottomY})`).call(d3.axisBottom(x).tickValues(xTicks).tickSize(majL).tickPadding(17).tickFormat(d3.format('d'))).call(styleAxis,majW);
svg.append('g').attr('transform',`translate(${colX[0]},0)`).call(d3.axisLeft(yE).tickValues(minorOf(-40,14,2,eTicks)).tickSize(minL).tickFormat('')).call(styleAxis,minW);
svg.append('g').attr('transform',`translate(${colX[0]},0)`).call(d3.axisLeft(yE).tickValues(eTicks).tickSize(majL).tickPadding(15).tickFormat(d3.format('d'))).call(styleAxis,majW).call(lowerLabels);
svg.append('g').attr('transform',`translate(${cbRight},0)`).call(d3.axisRight(yR).tickValues(minorOf(-4.8,1.6,0.2,rTicks)).tickSize(minL).tickFormat('')).call(styleAxis,minW);
svg.append('g').attr('transform',`translate(${cbRight},0)`).call(d3.axisRight(yR).tickValues(rTicks).tickSize(majL).tickPadding(17).tickFormat(d3.format('d'))).call(styleAxis,majW).call(lowerLabels);

// spines
const sp=svg.append('g').attr('stroke','#000').attr('stroke-width',spineW).attr('fill','none');
sp.append('rect').attr('x',colX[0]).attr('y',rowY[3]).attr('width',cbRight-colX[0]).attr('height',bottomY-rowY[3]);
sp.append('rect').attr('x',colX[3]).attr('y',rowY[0]).attr('width',cbRight-colX[3]).attr('height',rowY[3]-rowY[0]);

// axis titles
svg.append('text').attr('x',927).attr('y',2039).attr('text-anchor','middle').attr('font-size',fsTitle).text('Time [yr]');
function mathLabel(x0,y0,parts,color){
  const t=svg.append('text').attr('transform',`translate(${x0},${y0}) rotate(-90)`).attr('text-anchor','middle').attr('font-size',fsTitle).attr('fill',color);
  parts.forEach(p=>{
    const s=t.append('tspan').text(p[0]);
    if(p[1]==='i')s.attr('font-style','italic');
    if(p[1]==='sub')s.attr('font-size',fsTitle*0.7).attr('dy',7);
    if(p[1]==='post')s.attr('dy',-7);
  });
}
mathLabel(27,1697,[['E','i'],['bin','sub'],[' [','post'],['E','i'],['H','sub'],[']','post']],'#000');
mathLabel(1818,1697,[['log'],['10','sub'],['(','post'],['r','i'],[' / '],['r','i'],['H','sub'],[')','post']],'#ff0000');
mathLabel(1825,734,[['log'],['10','sub'],['(','post'],['F','i'],[' / '],['F','i'],['0','sub'],[')','post']],'#000');
</script></body></html>
